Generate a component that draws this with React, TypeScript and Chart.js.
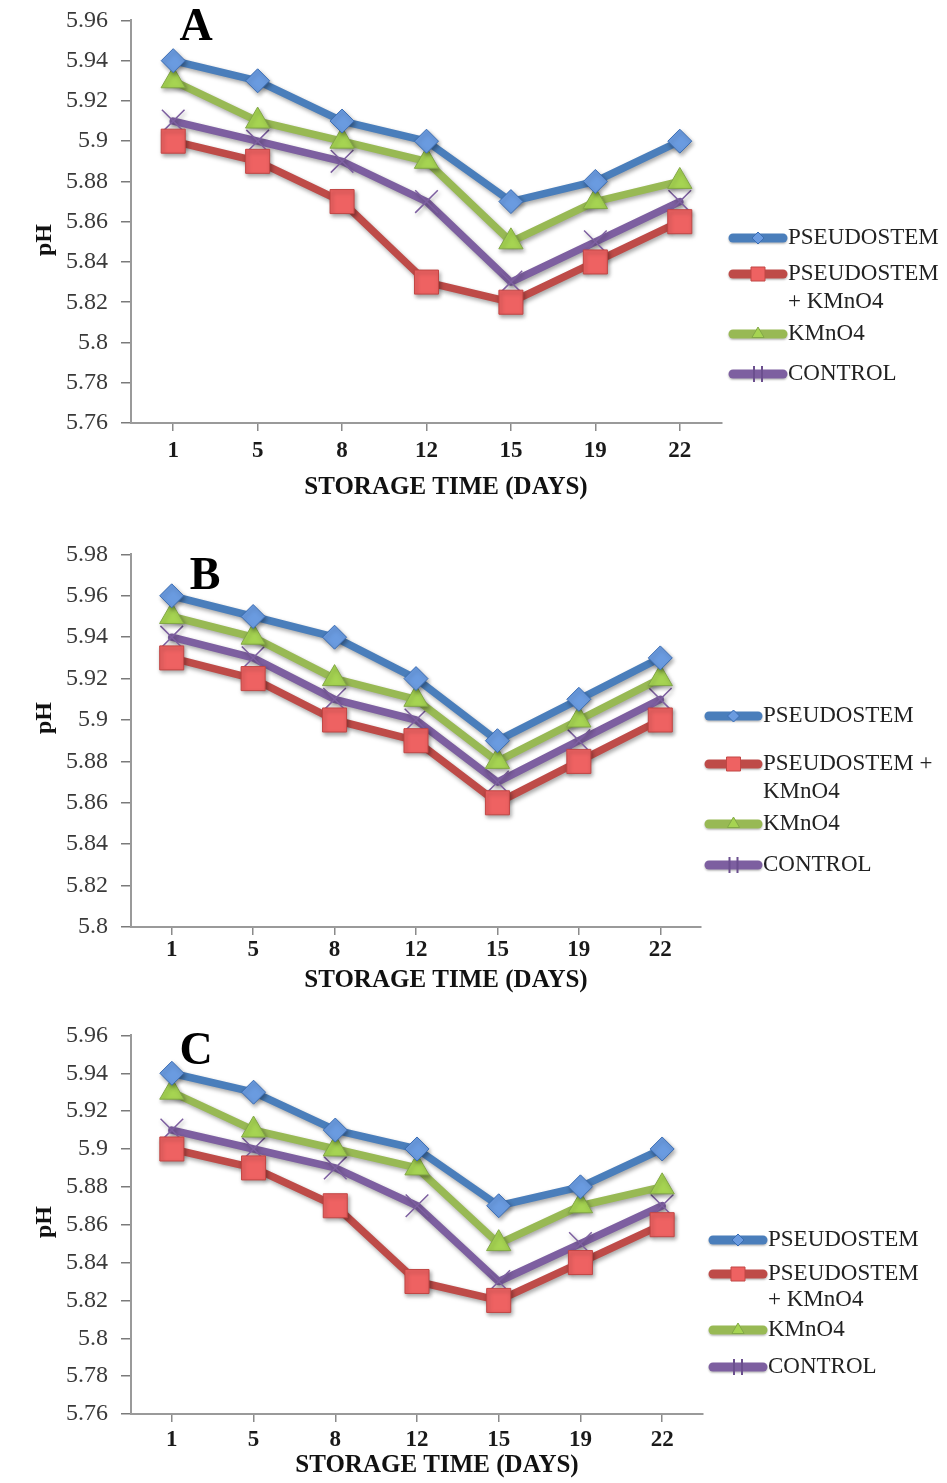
import React, { useEffect, useRef } from 'react';
import { Chart, registerables } from 'chart.js';

Chart.register(...registerables);

// ---------- data ----------
const DAYS = ['1', '5', '8', '12', '15', '19', '22'];
const X_TITLE = 'STORAGE TIME (DAYS)';
const Y_TITLE = 'pH';
const SERIES_NAMES = ['PSEUDOSTEM', 'PSEUDOSTEM + KMnO4', 'KMnO4', 'CONTROL'];

const A_PSEUDOSTEM = [5.94, 5.93, 5.91, 5.9, 5.87, 5.88, 5.9];
const A_PSEUDOSTEM_KMNO4 = [5.9, 5.89, 5.87, 5.83, 5.82, 5.84, 5.86];
const A_KMNO4 = [5.93, 5.91, 5.9, 5.89, 5.85, 5.87, 5.88];
const A_CONTROL = [5.91, 5.9, 5.89, 5.87, 5.83, 5.85, 5.87];

const B_PSEUDOSTEM = [5.96, 5.95, 5.94, 5.92, 5.89, 5.91, 5.93];
const B_PSEUDOSTEM_KMNO4 = [5.93, 5.92, 5.9, 5.89, 5.86, 5.88, 5.9];
const B_KMNO4 = [5.95, 5.94, 5.92, 5.91, 5.88, 5.9, 5.92];
const B_CONTROL = [5.94, 5.93, 5.91, 5.9, 5.87, 5.89, 5.91];

const C_PSEUDOSTEM = [5.94, 5.93, 5.91, 5.9, 5.87, 5.88, 5.9];
const C_PSEUDOSTEM_KMNO4 = [5.9, 5.89, 5.87, 5.83, 5.82, 5.84, 5.86];
const C_KMNO4 = [5.93, 5.91, 5.9, 5.89, 5.85, 5.87, 5.88];
const C_CONTROL = [5.91, 5.9, 5.89, 5.87, 5.83, 5.85, 5.87];

const A_Y_RANGE = [5.76, 5.96];
const B_Y_RANGE = [5.8, 5.98];
const C_Y_RANGE = [5.76, 5.96];
const Y_STEP = 0.02;

const A_LEGEND_LINES = [['PSEUDOSTEM'], ['PSEUDOSTEM', '+ KMnO4'], ['KMnO4'], ['CONTROL']];
const B_LEGEND_LINES = [['PSEUDOSTEM'], ['PSEUDOSTEM +', 'KMnO4'], ['KMnO4'], ['CONTROL']];
const C_LEGEND_LINES = [['PSEUDOSTEM'], ['PSEUDOSTEM', '+ KMnO4'], ['KMnO4'], ['CONTROL']];

// ---------- styles ----------
const SERIF = '"Liberation Serif", "Times New Roman", serif';

const STYLES = [
  { line: '#4a7ebb', fill: '#6a9be0', border: '#3b6db3', point: 'rectRot', radius: 12, lr: 6 },
  { line: '#be4b48', fill: '#ee6262', border: '#c24644', point: 'rect', radius: 17, lr: 7 },
  { line: '#98b954', fill: '#a6d452', border: '#82a846', point: 'triangle', radius: 14, lr: 7 },
  { line: '#7d5fa0', fill: '#7d5fa0', border: '#7d5fa0', point: 'crossRot', radius: 16, lr: 8 },
];

type Panel = {
  letter: string;
  top: number;
  height: number;
  padLeft: number;
  padRight: number;
  yWidth: number;
  xHeight: number;
  xTickPad: number;
  yRange: number[];
  series: number[][];
  legendLines: string[][];
  letterPos: number[];
  yTitlePos: number[];
  xTitlePos: number[];
  legendX: number[]; // line start, line end, text start
  legendYs: number[][];
};

const PANELS: Panel[] = [
  {
    letter: 'A', top: -7, height: 512, padLeft: 31, padRight: 225, yWidth: 100, xHeight: 82, xTickPad: 6,
    yRange: A_Y_RANGE, series: [A_PSEUDOSTEM, A_PSEUDOSTEM_KMNO4, A_KMNO4, A_CONTROL], legendLines: A_LEGEND_LINES,
    letterPos: [196, 28], yTitlePos: [45, 240], xTitlePos: [446, 488],
    legendX: [733, 783, 788], legendYs: [[238], [274, 302], [334], [374]],
  },
  {
    letter: 'B', top: 527, height: 473, padLeft: 31, padRight: 246, yWidth: 100, xHeight: 73, xTickPad: 1,
    yRange: B_Y_RANGE, series: [B_PSEUDOSTEM, B_PSEUDOSTEM_KMNO4, B_KMNO4, B_CONTROL], legendLines: B_LEGEND_LINES,
    letterPos: [205, 577], yTitlePos: [45, 718], xTitlePos: [446, 981],
    legendX: [709, 758, 763], legendYs: [[716], [764, 792], [824], [865]],
  },
  {
    letter: 'C', top: 1008, height: 475, padLeft: 31, padRight: 244, yWidth: 100, xHeight: 69, xTickPad: 4,
    yRange: C_Y_RANGE, series: [C_PSEUDOSTEM, C_PSEUDOSTEM_KMNO4, C_KMNO4, C_CONTROL], legendLines: C_LEGEND_LINES,
    letterPos: [196, 1052], yTitlePos: [45, 1222], xTitlePos: [437, 1466],
    legendX: [713, 763, 768], legendYs: [[1240], [1274, 1300], [1330], [1367]],
  },
];

function drawMarker(ctx: CanvasRenderingContext2D, kind: string, x: number, y: number, r: number, fill: string, stroke: string) {
  ctx.beginPath();
  if (kind === 'rectRot') {
    ctx.moveTo(x, y - r); ctx.lineTo(x + r, y); ctx.lineTo(x, y + r); ctx.lineTo(x - r, y); ctx.closePath();
  } else if (kind === 'rect') {
    ctx.rect(x - r, y - r, 2 * r, 2 * r);
  } else if (kind === 'triangle') {
    ctx.moveTo(x, y - r); ctx.lineTo(x + r * 0.87, y + r * 0.5); ctx.lineTo(x - r * 0.87, y + r * 0.5); ctx.closePath();
  } else {
    ctx.moveTo(x - r * 0.5, y - r); ctx.lineTo(x - r * 0.5, y + r);
    ctx.moveTo(x + r * 0.5, y - r); ctx.lineTo(x + r * 0.5, y + r);
    ctx.strokeStyle = '#6b4f8e'; ctx.lineWidth = 2; ctx.stroke();
    return;
  }
  ctx.fillStyle = fill; ctx.fill();
  ctx.strokeStyle = stroke; ctx.lineWidth = 1; ctx.stroke();
}

function PanelChart({ panel }: { panel: Panel }) {
  const ref = useRef<HTMLCanvasElement | null>(null);

  useEffect(() => {
    if (!ref.current) return;
    const p = panel;
    const decor = {
      id: 'decor_' + p.letter,
      beforeDatasetDraw(chart: any) {
        const ctx = chart.ctx;
        ctx.save();
        ctx.shadowColor = 'rgba(0,0,0,0.35)';
        ctx.shadowBlur = 4;
        ctx.shadowOffsetX = 1.5;
        ctx.shadowOffsetY = 2.5;
      },
      afterDatasetDraw(chart: any) {
        chart.ctx.restore();
      },
      afterDraw(chart: any) {
        const ctx: CanvasRenderingContext2D = chart.ctx;
        const off = p.top;
        ctx.save();
        // panel letter
        ctx.fillStyle = '#000';
        ctx.font = `bold 46px ${SERIF}`;
        ctx.textAlign = 'center';
        ctx.textBaseline = 'middle';
        ctx.fillText(p.letter, p.letterPos[0], p.letterPos[1] - off);
        // x title
        ctx.fillStyle = '#111';
        ctx.font = `bold 25px ${SERIF}`;
        ctx.fillText(X_TITLE, p.xTitlePos[0], p.xTitlePos[1] - off);
        // y title
        ctx.save();
        ctx.translate(p.yTitlePos[0], p.yTitlePos[1] - off);
        ctx.rotate(-Math.PI / 2);
        ctx.font = `bold 24px ${SERIF}`;
        ctx.fillText(Y_TITLE, 0, 0);
        ctx.restore();
        // legend
        ctx.textAlign = 'left';
        ctx.font = `23px ${SERIF}`;
        p.legendLines.forEach((lines, i) => {
          const st = STYLES[i];
          const ys = p.legendYs[i];
          const y0 = ys[0] - off;
          ctx.save();
          ctx.shadowColor = 'rgba(0,0,0,0.25)';
          ctx.shadowBlur = 2;
          ctx.shadowOffsetY = 1.5;
          ctx.beginPath();
          ctx.lineCap = 'round';
          ctx.lineWidth = 9;
          ctx.strokeStyle = st.line;
          ctx.moveTo(p.legendX[0], y0);
          ctx.lineTo(p.legendX[1], y0);
          ctx.stroke();
          ctx.restore();
          drawMarker(ctx, st.point, (p.legendX[0] + p.legendX[1]) / 2, y0, st.lr, st.fill, st.border);
          ctx.fillStyle = '#222';
          lines.forEach((t, j) => ctx.fillText(t, p.legendX[2], ys[j] - off));
        });
        ctx.restore();
      },
    };

    const chart = new Chart(ref.current, {
      type: 'line',
      data: {
        labels: DAYS,
        datasets: p.series.map((vals, i) => ({
          label: SERIES_NAMES[i],
          data: vals,
          borderColor: STYLES[i].line,
          borderWidth: 7.5,
          borderJoinStyle: 'round' as const,
          borderCapStyle: 'round' as const,
          tension: 0,
          fill: false,
          pointStyle: STYLES[i].point as any,
          pointRadius: STYLES[i].radius,
          pointBackgroundColor: STYLES[i].fill,
          pointBorderColor: STYLES[i].border,
          pointBorderWidth: i === 3 ? 1.5 : 1,
        })),
      },
      options: {
        responsive: false,
        animation: false,
        devicePixelRatio: 1,
        layout: { padding: { top: 0, left: p.padLeft, right: p.padRight, bottom: 0 } },
        plugins: { legend: { display: false }, tooltip: { enabled: false } },
        scales: {
          x: {
            type: 'category',
            offset: true,
            grid: { display: true, drawOnChartArea: false, drawTicks: true, tickLength: 8, offset: false, color: '#8a8a8a', lineWidth: 1.5 },
            border: { display: true, color: '#9a9a9a', width: 2 },
            ticks: { color: '#1a1a1a', font: { family: SERIF, size: 23, weight: 'bold' }, padding: p.xTickPad, maxRotation: 0, autoSkip: false },
            title: { display: false },
            afterFit: (s: any) => { s.height = p.xHeight; },
          },
          y: {
            type: 'linear',
            min: p.yRange[0],
            max: p.yRange[1],
            grid: { display: true, drawOnChartArea: false, drawTicks: true, tickLength: 10, color: '#7a7a7a', lineWidth: 1.5 },
            border: { display: true, color: '#9a9a9a', width: 2 },
            ticks: {
              stepSize: Y_STEP,
              color: '#3a3a3a',
              padding: 13,
              font: { family: SERIF, size: 24 },
              callback: (v: any) => String(parseFloat(Number(v).toFixed(2))),
            },
            title: { display: false },
            afterFit: (s: any) => { s.width = p.yWidth; },
          },
        },
      },
      plugins: [decor],
    } as any);
    return () => chart.destroy();
  }, [panel]);

  return (
    <canvas
      ref={ref}
      width={947}
      height={panel.height}
      style={{ position: 'absolute', left: 0, top: panel.top, width: 947, height: panel.height, display: 'block' }}
    />
  );
}

export default function App() {
  return (
    <div style={{ position: 'absolute', left: 0, top: 0, width: 947, height: 1483, background: '#fff', overflow: 'hidden' }}>
      {PANELS.map((p) => (
        <PanelChart key={p.letter} panel={p} />
      ))}
    </div>
  );
}
